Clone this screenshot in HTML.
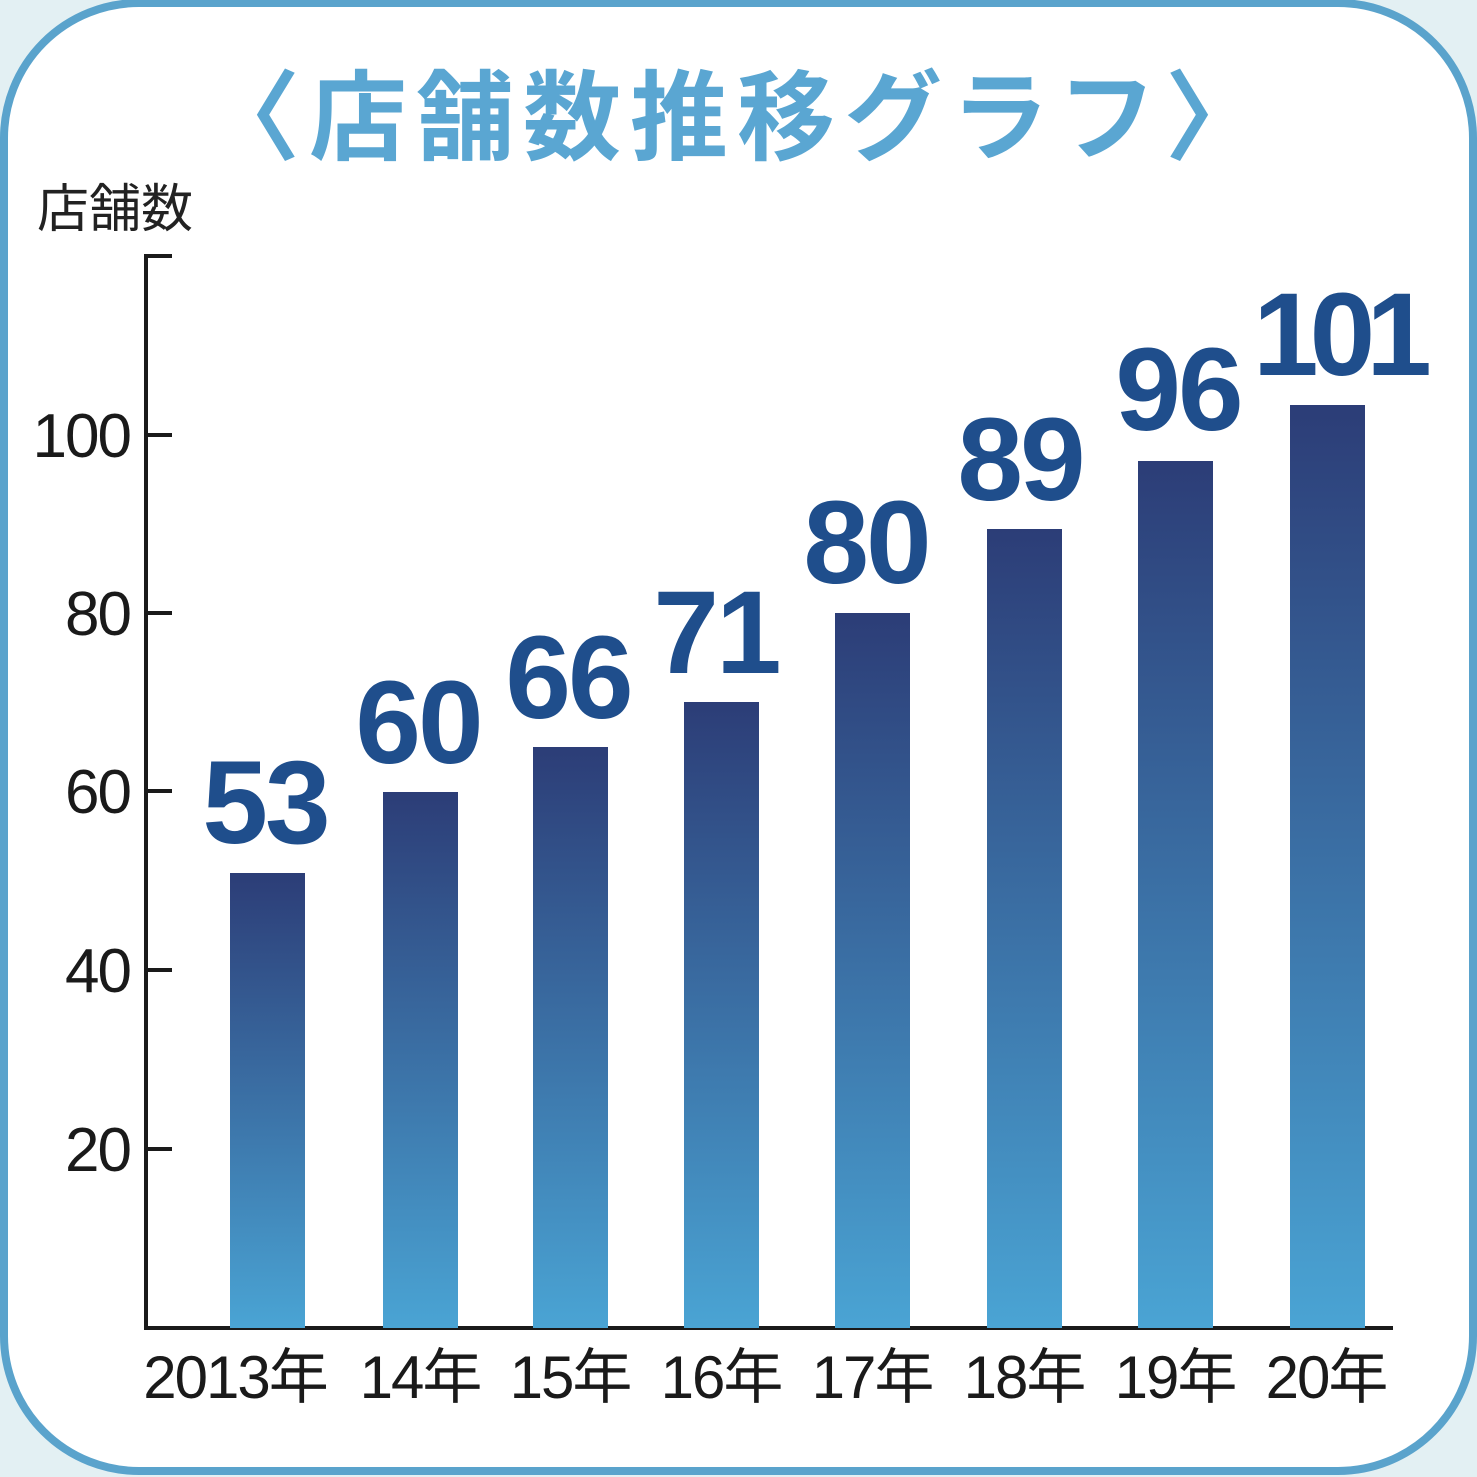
<!DOCTYPE html>
<html><head><meta charset="utf-8"><style>
html,body{margin:0;padding:0;background:#e3f0f3;}
svg{display:block}
</style></head><body>
<svg width="1477" height="1477" viewBox="0 0 1477 1477" xmlns="http://www.w3.org/2000/svg">
<defs>
<linearGradient id="g" x1="0" y1="0" x2="0" y2="1">
<stop offset="0" stop-color="#2c3d77"/><stop offset="1" stop-color="#4aa4d4"/>
</linearGradient>
</defs>
<rect x="0" y="0" width="1477" height="1477" fill="#e3f0f3"/>
<rect x="4" y="3" width="1469" height="1468" rx="135" ry="135" fill="#fff" stroke="#5aa3cc" stroke-width="8"/>
<text x="737" y="152" text-anchor="middle" font-family="'Noto Sans CJK JP',sans-serif" font-weight="bold" font-size="98" fill="#5aa6d2" letter-spacing="9">〈店舗数推移グラフ〉</text>
<text x="37" y="227" font-family="'Noto Sans CJK JP',sans-serif" font-size="52" fill="#222">店舗数</text>
<g stroke="#1a1a1a" stroke-width="4" fill="none">
<path d="M172 256 H146 V1328 H1393"/>
<path d="M146 435H172M146 613H172M146 791H172M146 970H172M146 1149H172"/>
</g>
<g font-family="'Liberation Sans',sans-serif" font-size="62" fill="#1a1a1a" text-anchor="end" letter-spacing="-2">
<text x="130" y="457">100</text><text x="130" y="635">80</text><text x="130" y="813">60</text><text x="130" y="992">40</text><text x="130" y="1171">20</text>
</g>
<g fill="url(#g)">
<rect x="230" y="873" width="75" height="455"/>
<rect x="383" y="792" width="75" height="536"/>
<rect x="533" y="747" width="75" height="581"/>
<rect x="684" y="702" width="75" height="626"/>
<rect x="835" y="613" width="75" height="715"/>
<rect x="987" y="529" width="75" height="799"/>
<rect x="1138" y="461" width="75" height="867"/>
<rect x="1290" y="405" width="75" height="923"/>
</g>
<g font-family="'Liberation Sans',sans-serif" font-weight="bold" font-size="118" fill="#1f4e8c" text-anchor="middle" letter-spacing="-3">
<text x="265" y="843">53</text><text x="418" y="763">60</text><text x="568" y="718">66</text><text x="716" y="673">71</text>
<text x="866" y="583">80</text><text x="1020" y="500">89</text><text x="1178" y="430">96</text><text x="1338" y="375" letter-spacing="-9">101</text>
</g>
<g font-family="'Liberation Sans','Noto Sans CJK JP',sans-serif" font-size="60" fill="#1a1a1a" text-anchor="middle" letter-spacing="-2">
<text x="235" y="1398">2013年</text><text x="420" y="1398">14年</text><text x="570" y="1398">15年</text><text x="721" y="1398">16年</text>
<text x="872" y="1398">17年</text><text x="1024" y="1398">18年</text><text x="1175" y="1398">19年</text><text x="1326" y="1398">20年</text>
</g>
</svg>
</body></html>
